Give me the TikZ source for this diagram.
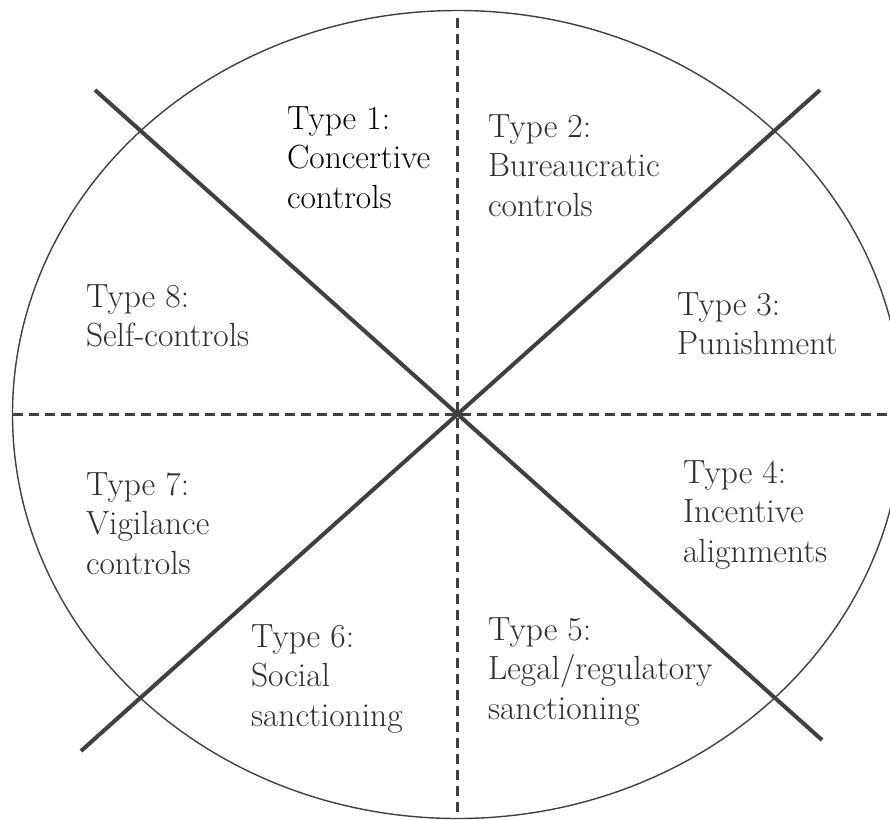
\documentclass[tikz,border=0pt]{standalone}
\definecolor{linegray}{HTML}{404040}
\definecolor{textgray}{HTML}{2E2E2E}
\begin{document}
\begin{tikzpicture}[x=1pt,y=-1pt,
  label/.style={anchor=base west, inner sep=0pt, outer sep=0pt, text=textgray,
    font=\fontsize{33.5}{39.5}\selectfont},
  divider/.style={draw=linegray, line width=2.5pt, dash pattern=on 10pt off 6pt},
  diag/.style={draw=linegray, line width=4pt},
  rim/.style={draw=linegray, line width=1.4pt}]
\useasboundingbox (0,0) rectangle (890,819);
\fill[white] (0,0) rectangle (890,819);
% centre and ends
\coordinate (c) at (457.5,414.5);
\coordinate (vtop) at (457.5,18);
\coordinate (vbot) at (457.5,819);
\coordinate (hl) at (13,414.5);
\coordinate (hr) at (890,414.5);
\coordinate (d1a) at (95,90);
\coordinate (d1b) at (822,740);
\coordinate (d2a) at (820,90);
\coordinate (d2b) at (81,751);
% ellipse
\draw[rim] (c) ellipse [x radius=445pt, y radius=404pt];
% dashed dividers
\draw[divider] (vtop) -- (vbot);
\draw[divider] (hl) -- (hr);
% diagonals
\draw[diag] (d1a) -- (d1b);
\draw[diag] (d2a) -- (d2b);
% labels
\node[label, text=black] (t1) at (287,129) {\begin{tabular}[t]{@{}l@{}}Type 1:\\Concertive\\controls\end{tabular}};
\node[label] (t2) at (488,137) {\begin{tabular}[t]{@{}l@{}}Type 2:\\Bureaucratic\\controls\end{tabular}};
\node[label] (t3) at (677,315) {\begin{tabular}[t]{@{}l@{}}Type 3:\\Punishment\end{tabular}};
\node[label] (t4) at (683,483) {\begin{tabular}[t]{@{}l@{}}Type 4:\\Incentive\\alignments\end{tabular}};
\node[label] (t5) at (488,640) {\begin{tabular}[t]{@{}l@{}}Type 5:\\Legal/regulatory\\sanctioning\end{tabular}};
\node[label] (t6) at (251,647) {\begin{tabular}[t]{@{}l@{}}Type 6:\\Social\\sanctioning\end{tabular}};
\node[label] (t7) at (86,495) {\begin{tabular}[t]{@{}l@{}}Type 7:\\Vigilance\\controls\end{tabular}};
\node[label] (t8) at (86,307) {\begin{tabular}[t]{@{}l@{}}Type 8:\\Self-controls\end{tabular}};
\end{tikzpicture}
\end{document}
